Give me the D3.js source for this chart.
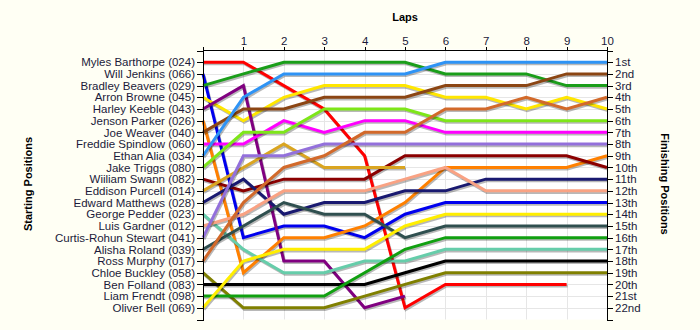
<!DOCTYPE html>
<html>
<head>
<meta charset="utf-8">
<script src="https://cdn.jsdelivr.net/npm/d3@7"></script>
<style>
  html, body { margin: 0; padding: 0; background: #fffff4; }
  svg { display: block; }
  text { font-family: "Liberation Sans", Arial, sans-serif; }
</style>
</head>
<body>
<svg id="chart" width="700" height="330"></svg>
<script>
// Drivers in starting order, with their line colours
const drivers = [
  "Myles Barthorpe (024)", "Will Jenkins (066)", "Bradley Beavers (029)", "Arron Browne (045)",
  "Harley Keeble (043)", "Jenson Parker (026)", "Joe Weaver (040)", "Freddie Spindlow (060)",
  "Ethan Alia (034)", "Jake Triggs (080)", "Wiiliam Swann (082)", "Eddison Purcell (014)",
  "Edward Matthews (028)", "George Pedder (023)", "Luis Gardner (012)", "Curtis-Rohun Stewart (041)",
  "Alisha Roland (039)", "Ross Murphy (017)", "Chloe Buckley (058)", "Ben Folland (083)",
  "Liam Frendt (098)", "Oliver Bell (069)"
];
const colors = [
  "#ff0000", "#0000ee", "#1a9e1a", "#ffe600",
  "#800080", "#ff8000", "#8b4513", "#ff00ff",
  "#2e93f5", "#7ee619", "#8b0000", "#daa520",
  "#191970", "#66cdaa", "#f9a283", "#9370db",
  "#2f4f4f", "#d2692a", "#808000", "#000000",
  "#10a010", "#ffee00"
];
// Race position of each driver at laps 0..10 (null = no longer running)
const positions = [
  [1, 1, 3, 5, 9, 22, 20, 20, 20, 20, null],
  [2, 16, 15, 15, 16, 14, 13, 13, 13, 13, 13],
  [3, 2, 1, 1, 1, 1, 2, 2, 2, 3, 3],
  [4, 6, 4, 3, 3, 3, 4, 4, 5, 4, 5],
  [5, 3, 18, 18, 22, 21, null, null, null, null, null],
  [6, 19, 16, 16, 15, 13, 10, 10, 10, 10, 9],
  [7, 5, 5, 4, 4, 4, 3, 3, 3, 2, 2],
  [8, 8, 6, 7, 6, 6, 7, 7, 7, 7, 7],
  [9, 4, 2, 2, 2, 2, 1, 1, 1, 1, 1],
  [10, 7, 7, 5, 5, 5, 6, 6, 6, 6, 6],
  [11, 12, 11, 11, 11, 9, 9, 9, 9, 9, 10],
  [12, 10, 8, 10, 10, 10, null, null, null, null, null],
  [13, 11, 14, 13, 13, 12, 12, 11, 11, 11, 11],
  [14, 17, 19, 19, 18, 18, 17, 17, 17, 17, 17],
  [15, 14, 12, 12, 12, 11, 10, 12, 12, 12, 12],
  [16, 9, 9, 8, 8, 8, 8, 8, 8, 8, 8],
  [17, 15, 13, 14, 14, 16, 15, 15, 15, 15, 15],
  [18, 13, 10, 9, 7, 7, 5, 5, 4, 5, 4],
  [19, 22, 22, 22, 21, 20, 19, 19, 19, 19, 19],
  [20, 20, 20, 20, 20, 19, 18, 18, 18, 18, 18],
  [21, 21, 21, 21, 19, 17, 16, 16, 16, 16, 16],
  [22, 18, 17, 17, 17, 15, 14, 14, 14, 14, 14]
];
const lapTicks = [0, 1, 2, 3, 4, 5, 6, 7, 8, 9, 10];
const finishLabels = [
  "1st", "2nd", "3rd", "4th", "5th", "6th", "7th", "8th", "9th", "10th", "11th",
  "12th", "13th", "14th", "15th", "16th", "17th", "18th", "19th", "20th", "21st", "22nd"
];

const svg = d3.select("#chart");
const plotLeft = 203, plotRight = 607, plotTop = 49.5, plotBottom = 319.5;

const x = d3.scaleLinear().domain([0, 10]).range([plotLeft, plotRight]);
const y = d3.scaleLinear().domain([0, 23]).range([50.5, plotBottom]);
const rows = d3.range(1, drivers.length + 1);

// plot background
svg.append("rect")
  .attr("x", plotLeft).attr("y", plotTop)
  .attr("width", plotRight - plotLeft).attr("height", plotBottom - plotTop)
  .attr("fill", "#ffffff");

// grid
const grid = svg.append("g").attr("stroke", "#e6e6e6").attr("stroke-width", 1);
grid.selectAll("line.h").data(rows).join("line")
  .attr("x1", plotLeft).attr("x2", plotRight)
  .attr("y1", d => Math.round(y(d)) + 0.5).attr("y2", d => Math.round(y(d)) + 0.5);
grid.selectAll("line.v").data(lapTicks.slice(1, -1)).join("line")
  .attr("y1", plotTop).attr("y2", plotBottom)
  .attr("x1", d => Math.round(x(d)) + 0.5).attr("x2", d => Math.round(x(d)) + 0.5);

// position lines, each with a soft drop shadow
const line = d3.line()
  .defined(d => d != null)
  .x((d, i) => x(i))
  .y(d => y(d));

const series = svg.append("g");
positions.forEach((p, i) => {
  series.append("path")
    .attr("d", line(p))
    .attr("fill", "none")
    .attr("stroke", "#000")
    .attr("stroke-opacity", 0.28)
    .attr("stroke-width", 3)
    .attr("transform", "translate(1,1.6)");
  series.append("path")
    .attr("d", line(p))
    .attr("fill", "none")
    .attr("stroke", colors[i])
    .attr("stroke-width", 3);
});

// axes
const tickColor = "#1b1b3a";
function styleAxis(g) {
  g.selectAll("path, line").attr("stroke", "#000").attr("shape-rendering", "crispEdges");
  g.selectAll("text").attr("fill", tickColor).style("font-size", "11.5px")
    .style("font-family", "'Liberation Sans', Arial, sans-serif");
}

svg.append("g")
  .attr("transform", `translate(0,${plotTop})`)
  .call(d3.axisTop(x).tickValues(lapTicks).tickFormat(d => d === 0 ? "" : d)
    .tickSize(3).tickSizeOuter(3).tickPadding(2))
  .call(styleAxis);

svg.append("g")
  .attr("transform", `translate(${plotLeft},0)`)
  .call(d3.axisLeft(y).tickValues(rows).tickFormat(d => drivers[d - 1])
    .tickSize(6).tickSizeOuter(6).tickPadding(2))
  .call(styleAxis);

svg.append("g")
  .attr("transform", `translate(${plotRight},0)`)
  .call(d3.axisRight(y).tickValues(rows).tickFormat(d => finishLabels[d - 1])
    .tickSize(6).tickSizeOuter(6).tickPadding(2))
  .call(styleAxis);

// titles
svg.append("text")
  .attr("x", 405).attr("y", 21)
  .attr("text-anchor", "middle")
  .style("font-weight", "bold").style("font-size", "11px")
  .text("Laps");

svg.append("text")
  .attr("transform", "translate(32,184) rotate(-90)")
  .attr("text-anchor", "middle")
  .style("font-weight", "bold").style("font-size", "11px")
  .text("Starting Positions");

svg.append("text")
  .attr("transform", "translate(661,184) rotate(90)")
  .attr("text-anchor", "middle")
  .style("font-weight", "bold").style("font-size", "11px")
  .text("Finishing Positions");
</script>
</body>
</html>
